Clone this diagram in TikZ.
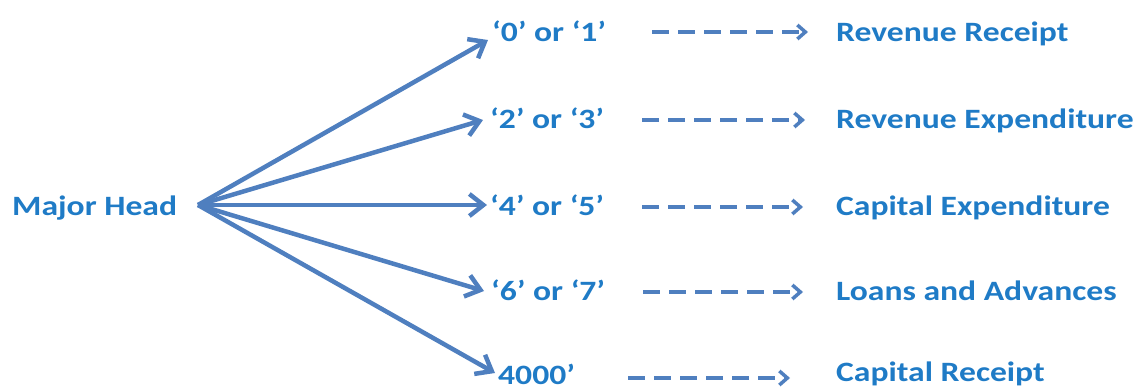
\documentclass[tikz,border=0pt]{standalone}
\usepackage{fontspec}
\setmainfont{Carlito}
\usetikzlibrary{arrows.meta}
\definecolor{txtblue}{HTML}{1F7BC6}
\definecolor{arrblue}{HTML}{4F7FBF}
\newcommand{\wide}[1]{\scalebox{1.2}[1]{#1}}
\tikzset{
  lbl/.style={font=\bfseries\fontsize{28}{30}\selectfont, text=txtblue, inner sep=0pt, anchor=base west},
  mainarrow/.style={draw=arrblue, line width=4.5pt, -{Straight Barb[length=14pt,width=22pt,line width=4.5pt]}},
  dasharrow/.style={draw=arrblue, line width=3.5pt, dash pattern=on 17pt off 9pt, -{Straight Barb[length=8pt,width=14pt,line width=3.5pt]}}
}
\begin{document}
\begin{tikzpicture}[x=1pt,y=-1pt]
\useasboundingbox (0,0) rectangle (1143,389);
\node[lbl] (mh) at (12,215) {\wide{Major Head}};
\coordinate (hub) at (198,205);
\node[lbl] (c1) at (492,41) {\wide{‘0’ or ‘1’}};
\node[lbl] (c2) at (490,128) {\wide{‘2’ or ‘3’}};
\node[lbl] (c3) at (490,215) {\wide{‘4’ or ‘5’}};
\node[lbl] (c4) at (491,300) {\wide{‘6’ or ‘7’}};
\node[lbl] (c5) at (498,384) {\wide{4000’}};
\coordinate (t1) at (488,40);
\coordinate (t2) at (483,120);
\coordinate (t3) at (487,205);
\coordinate (t4) at (484,291);
\coordinate (t5) at (495,373);
\foreach \i in {1,...,5} \draw[mainarrow] (hub) -- (t\i);
\node[lbl] (r1) at (836,41) {\wide{Revenue Receipt}};
\node[lbl] (r2) at (836,128) {\wide{Revenue Expenditure}};
\node[lbl] (r3) at (836,215) {\wide{Capital Expenditure}};
\node[lbl] (r4) at (836,300) {\wide{Loans and Advances}};
\node[lbl] (r5) at (836,381) {\wide{Capital Receipt}};
\coordinate (d1s) at (652,32); \coordinate (d1e) at (808,32);
\coordinate (d2s) at (642,120); \coordinate (d2e) at (805,120);
\coordinate (d3s) at (642,207); \coordinate (d3e) at (803,207);
\coordinate (d4s) at (643,292); \coordinate (d4e) at (803,292);
\coordinate (d5s) at (628,378); \coordinate (d5e) at (790,378);
\foreach \i in {1,...,5} \draw[dasharrow] (d\i s) -- (d\i e);
\end{tikzpicture}
\end{document}
